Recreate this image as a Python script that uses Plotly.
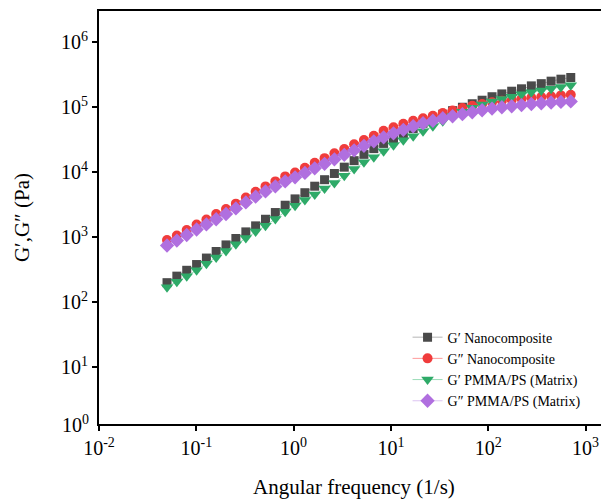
import plotly.graph_objects as go

# Angular frequency (1/s)
freq = [0.050, 0.0631, 0.0797, 0.1007, 0.127, 0.160, 0.202, 0.255, 0.323, 0.407,
        0.514, 0.649, 0.819, 1.035, 1.306, 1.648, 2.080, 2.625, 3.316, 4.185,
        5.28, 6.67, 8.41, 10.63, 13.42, 16.94, 21.38, 26.98, 34.1, 43.0,
        54.3, 68.5, 86.5, 109.4, 138.0, 174.2, 219.8, 277.3, 350.8, 442.6,
        558.5, 704.7]

g1_nano = [200, 252, 310, 380, 478, 603, 761, 955, 1207, 1494,
           1888, 2395, 3102, 3881, 4831, 6085, 7660, 9550, 11940, 15030,
           18790, 23000, 27670, 32810, 38800, 46800, 56500, 67450, 77800, 88300,
           99600, 112700, 127700, 144500, 159700, 175700, 191300, 212200, 229500, 250800,
           269000, 285600]

g2_nano = [902, 1062, 1290, 1570, 1875, 2270, 2710, 3283, 4074, 5010,
           6040, 7210, 8610, 9860, 11650, 13900, 16440, 19500, 22700, 26800,
           31100, 36240, 43250, 48980, 55460, 61700, 67400, 73700, 81400, 88700,
           96900, 105100, 111700, 119100, 125600, 130000, 134700, 139600, 143100, 147300,
           151400, 155200]

g1_matrix = [170, 206, 250, 310, 392, 488, 615, 778, 973, 1220,
             1503, 1907, 2471, 3046, 3741, 4547, 5623, 6839, 8770, 11200,
             14250, 16900, 20900, 25870, 30900, 35620, 42560, 50820, 60700, 72450,
             84980, 97900, 110100, 122000, 133300, 144500, 158100, 169800, 180800, 192300,
             204200, 217500]

g2_matrix = [745, 889, 1081, 1314, 1570, 1888, 2276, 2767, 3428, 4198,
             5058, 6040, 7210, 8318, 9750, 11450, 13430, 15750, 18490, 21680,
             25420, 29840, 34380, 39610, 44850, 50800, 56500, 61700, 67400, 72400,
             77800, 83400, 89500, 95100, 99600, 103200, 107700, 111700, 114800, 117800,
             120300, 122400]

x_ticks = [0.01, 0.1, 1, 10, 100, 1000]
x_labels = ["10<sup>-2</sup>", "10<sup>-1</sup>", "10<sup>0</sup>",
            "10<sup>1</sup>", "10<sup>2</sup>", "10<sup>3</sup>"]
y_ticks = [10, 100, 1000, 1e4, 1e5, 1e6]
y_labels = ["10<sup>1</sup>", "10<sup>2</sup>", "10<sup>3</sup>",
            "10<sup>4</sup>", "10<sup>5</sup>", "10<sup>6</sup>"]

font = "Liberation Serif, Times New Roman, serif"

fig = go.Figure()

series = [
    ("G\u2032 Nanocomposite", g1_nano, "square", 9, "#4a4a4a", "#b5b5b5"),
    ("G\u2033 Nanocomposite", g2_nano, "circle", 10, "#f03c3c", "#ff9a9a"),
    ("G\u2032 PMMA/PS (Matrix)", g1_matrix, "triangle-down", 11, "#2eaa68", "#9bdcb8"),
    ("G\u2033 PMMA/PS (Matrix)", g2_matrix, "diamond", 11, "#b06fdf", "#dcc4f2"),
]
for name, vals, sym, size, col, lcol in series:
    fig.add_trace(go.Scatter(
        x=freq, y=vals, name=name, mode="lines+markers",
        line=dict(color=lcol, width=1),
        marker=dict(symbol=sym, size=size, color=col),
    ))

# the page body has an 8px margin, so the figure is 8px smaller each way
fig.update_layout(
    width=601, height=491,
    margin=dict(l=91, r=0, t=3, b=75),
    paper_bgcolor="white", plot_bgcolor="white",
    font=dict(family=font, color="black"),
    showlegend=True,
    legend=dict(x=0.605, y=0.018, xanchor="left", yanchor="bottom",
                bgcolor="rgba(0,0,0,0)", font=dict(size=14), tracegroupgap=0),
)

fig.update_xaxes(
    type="log", range=[-2, 3.241],
    tickvals=x_ticks, ticktext=x_labels, tickfont=dict(size=20),
    ticks="outside", ticklen=5, tickwidth=1.5, tickcolor="black",
    showline=True, linewidth=2, linecolor="black", mirror=True,
    showgrid=False, zeroline=False,
    title=dict(text="Angular frequency (1/s)", font=dict(size=21), standoff=22),
)
fig.update_yaxes(
    type="log", range=[0.128, 6.478],
    tickvals=y_ticks, ticktext=y_labels, tickfont=dict(size=20),
    ticks="outside", ticklen=5, tickwidth=1.5, tickcolor="black",
    showline=True, linewidth=2, linecolor="black", mirror=False,
    showgrid=False, zeroline=False,
    title=dict(text="G\u2032,G\u2033 (Pa)", font=dict(size=21), standoff=26),
)

# 10^0 label sits at the bottom corner of the y axis
fig.add_annotation(x=0, y=0, xref="paper", yref="paper", xanchor="right",
                   yanchor="middle", xshift=-8, showarrow=False,
                   text="10<sup>0</sup>", font=dict(size=20, family=font))

fig.write_html("out.html")
